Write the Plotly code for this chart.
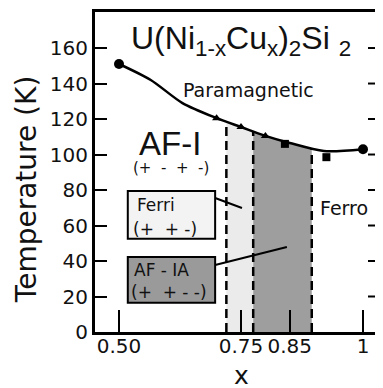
import plotly.graph_objects as go

# ---- data ----
curve_x = [0.50, 0.565, 0.63, 0.70, 0.75, 0.80, 0.85, 0.92, 1.00]
curve_T = [151, 142, 129, 120.5, 115.5, 110.5, 106.5, 102, 103]

circle_x = [0.50, 1.00]
circle_T = [151, 103]
triangle_x = [0.70, 0.75, 0.80]
triangle_T = [120.5, 115.5, 110.5]
square_x = [0.84, 0.925]
square_T = [106, 98.5]

# phase boundaries (dashed lines) and the temperature they reach
bound_x = [0.72, 0.775, 0.895]
bound_T = [118.5, 113, 103.6]

yticks = [0, 20, 40, 60, 80, 100, 120, 140, 160]
xticks = [0.50, 0.75, 0.85, 1.0]
xticklabels = ["0.50", "0.75", "0.85", "1"]

FONT = "DejaVu Sans"
ARIAL = "Liberation Sans"

fig = go.Figure()

# shaded regions
fig.add_trace(go.Scatter(
    x=[bound_x[0], bound_x[0], bound_x[1], bound_x[1], bound_x[0]],
    y=[0, bound_T[0], bound_T[1], 0, 0],
    fill="toself", fillcolor="#ebebeb", line=dict(width=0),
    mode="lines", hoverinfo="skip", showlegend=False))
fig.add_trace(go.Scatter(
    x=[bound_x[1], bound_x[1], curve_x[6], bound_x[2], bound_x[2], bound_x[1]],
    y=[0, bound_T[1], curve_T[6], bound_T[2], 0, 0],
    fill="toself", fillcolor="#9e9e9e", line=dict(width=0),
    mode="lines", hoverinfo="skip", showlegend=False))

# dashed boundaries
for bx, bt in zip(bound_x, bound_T):
    fig.add_trace(go.Scatter(x=[bx, bx], y=[0, bt], mode="lines",
                             line=dict(color="black", width=2.5, dash="9px,5px"),
                             hoverinfo="skip", showlegend=False))

# transition curve
fig.add_trace(go.Scatter(x=curve_x, y=curve_T, mode="lines",
                         line=dict(color="black", width=2.5, shape="spline", smoothing=0.8),
                         showlegend=False))
fig.add_trace(go.Scatter(x=circle_x, y=circle_T, mode="markers",
                         marker=dict(symbol="circle", size=10, color="black"), showlegend=False))
fig.add_trace(go.Scatter(x=triangle_x, y=triangle_T, mode="markers",
                         marker=dict(symbol="triangle-up", size=8, color="black"), showlegend=False))
fig.add_trace(go.Scatter(x=square_x, y=square_T, mode="markers",
                         marker=dict(symbol="square", size=8, color="black"), showlegend=False))

# boxes
fig.add_shape(type="rect", x0=0.518, x1=0.697, y0=52.5, y1=79.5,
              line=dict(color="black", width=2), fillcolor="#f3f3f3", layer="above")
fig.add_shape(type="rect", x0=0.518, x1=0.697, y0=16.5, y1=42.3,
              line=dict(color="black", width=2), fillcolor="#9a9a9a", layer="above")
fig.add_shape(type="line", x0=0.697, y0=75.5, x1=0.752, y1=69.9,
              line=dict(color="black", width=2), layer="above")
fig.add_shape(type="line", x0=0.697, y0=37.7, x1=0.844, y1=47.9,
              line=dict(color="black", width=2), layer="above")

# right-hand ticks (the right frame itself lies just beyond the visible edge)
for t in yticks[1:]:
    fig.add_shape(type="line", xref="x domain", yref="y", x0=0.975, x1=1.0, y0=t, y1=t,
                  line=dict(color="black", width=2), layer="above")

def txt(x, y, s, size, font=FONT, xanchor="center", **kw):
    fig.add_annotation(x=x, y=y, text=s, showarrow=False, xanchor=xanchor, yanchor="middle",
                       font=dict(family=font, size=size, color="#111"), **kw)

txt(0.75, 164, "U(Ni<sub>1-x</sub>Cu<sub>x</sub>)<sub>2</sub>Si <sub>2</sub>", 32, font=ARIAL)
txt(0.766, 136.3, "Paramagnetic", 19)
txt(0.961, 70, "Ferro", 19)
txt(0.605, 106, "AF-I", 33, font=ARIAL)
txt(0.607, 92.5, "(+  -  +  -)", 15)
txt(0.533, 71.5, "Ferri", 17, xanchor="left")
txt(0.525, 58, "(+  + -)", 17, xanchor="left")
txt(0.527, 35, "AF - IA", 17, xanchor="left")
txt(0.52, 22.5, "(+  + - -)", 17, xanchor="left")

# axis titles as annotations
fig.add_annotation(x=-0.242, y=0.444, xref="paper", yref="paper", text="Temperature (K)",
                   textangle=-90, showarrow=False, xanchor="center", yanchor="middle",
                   font=dict(family=FONT, size=28, color="#111"))
fig.add_annotation(x=0.75, y=-0.137, xref="x", yref="paper", text="x", showarrow=False,
                   xanchor="center", yanchor="middle",
                   font=dict(family=FONT, size=25, color="#111"))

# the page places the figure 8px in from the top-left corner and shows 367px of it
fig.update_layout(
    width=367, height=380,
    margin=dict(l=87, r=0, t=4, b=56),
    plot_bgcolor="white", paper_bgcolor="white",
    xaxis=dict(range=[0.4508, 1.0246], tickvals=xticks, ticktext=xticklabels,
               ticks="inside", ticklen=22, tickwidth=2, tickcolor="black",
               showline=True, linewidth=3, linecolor="black", mirror=True,
               showgrid=False, zeroline=False, automargin=False,
               ticklabelstandoff=-6,
               tickfont=dict(family=FONT, size=20, color="#111")),
    yaxis=dict(range=[0, 180.3], tickvals=yticks,
               ticks="inside", ticklen=12, tickwidth=2, tickcolor="black",
               showline=True, linewidth=3, linecolor="black",
               showgrid=False, zeroline=False, automargin=False,
               tickfont=dict(family=FONT, size=20, color="#111")),
)

fig.write_html("out.html")
